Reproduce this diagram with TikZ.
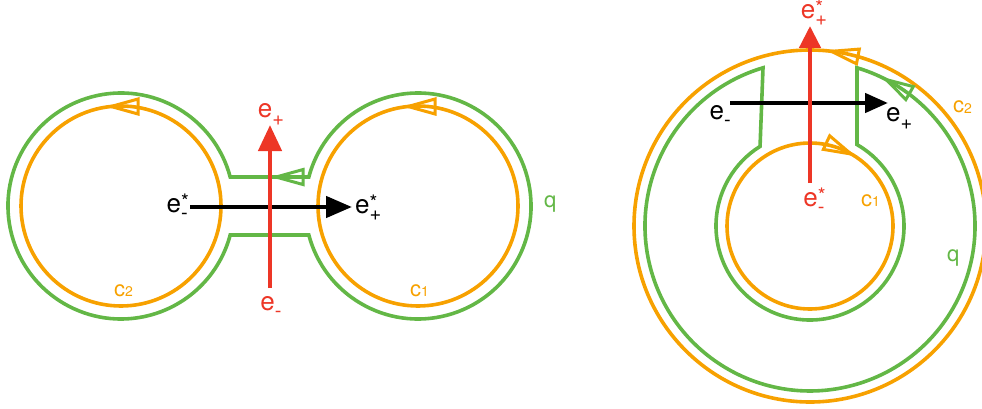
\documentclass[tikz,border=0pt]{standalone}
\usepackage{fontspec}
\setmainfont{TeX Gyre Heros}
\usetikzlibrary{arrows.meta}
\definecolor{cor}{RGB}{247,161,0}
\definecolor{cgr}{RGB}{99,183,70}
\definecolor{cre}{RGB}{237,54,38}
\newcommand{\esub}[2]{e\makebox[0pt][l]{\raisebox{4pt}{\fontsize{20}{20}\selectfont #1}}\raisebox{-7pt}{\fontsize{20}{20}\selectfont #2}}
\newcommand{\cidx}[1]{c\raisebox{-0.5pt}{\fontsize{14}{14}\selectfont #1}}
\newcommand{\otri}[3]{\draw[#3,line width=3pt,line join=miter,shift={#1},rotate=#2] (0,0) -- (27,7.5) -- (27,-7.5) -- cycle;}
\begin{document}
\begin{tikzpicture}[x=1pt,y=-1pt,
  ocirc/.style={cor,line width=3.6pt},
  gpath/.style={cgr,line width=3.6pt,line join=miter},
  vec/.style={line width=4.5pt},
  lbl/.style={font=\fontsize{26}{28}\selectfont, inner sep=0pt},
  clbl/.style={font=\fontsize{22}{24}\selectfont, inner sep=0pt, text=cor},
  qlbl/.style={font=\fontsize{22}{24}\selectfont, inner sep=0pt, text=cgr}]
\useasboundingbox (0,0) rectangle (982,409);

% ================= left figure =================
\draw[ocirc] (121,206) circle[radius=100];
\draw[ocirc] (418,206) circle[radius=100];
\otri{(111,106.5)}{0}{cor}
\otri{(408,106.5)}{0}{cor}

\draw[gpath] (230.2,177.04) arc[start angle=-14.85,end angle=-345.15,radius=113]
  -- (308.8,234.96) arc[start angle=-194.85,end angle=-525.15,radius=113] -- cycle;
\otri{(276,177.04)}{0}{cgr}

% labels left
\node[lbl,anchor=base east] (Lem) at (188,212) {\esub{*}{-}};
\node[lbl,anchor=base west] (Lep) at (355,213) {\esub{*}{+}};
\coordinate (Ltip) at (352,207);
\draw[vec,-{Triangle[length=26pt,width=21pt]}] (Lem.east |- Ltip) ++(2,0) -- (Ltip);

\node[lbl,anchor=base,text=cre] (Lrp) at (271,118) {\esub{}{+}};
\node[lbl,anchor=base,text=cre] (Lrm) at (271,310) {\esub{}{-}};
\coordinate (Lrb) at (270,288);
\coordinate (Lrt) at (270,125);
\draw[vec,cre,-{Triangle[length=26pt,width=23pt]}] (Lrb) -- (Lrt);

\node[clbl,anchor=base west] (Lc2) at (114,296) {\cidx{2}};
\node[clbl,anchor=base west] (Lc1) at (410,296) {\cidx{1}};
\node[qlbl,anchor=base west] (Lq) at (544,207) {q};

% ================= right figure =================
\draw[ocirc] (810,226) circle[radius=176];
\draw[ocirc] (810,226) circle[radius=83];
\otri{(831.4,51.3)}{-11}{cor}
\otri{(851,154)}{155}{cor}

\draw[gpath] (763,67.8) arc[start angle=-106.55,end angle=-433.45,radius=165]
  -- (857,144.6) arc[start angle=-60,end angle=237.9,radius=94] -- cycle;
\otri{(886.2,79.6)}{-30}{cgr}

\node[lbl,anchor=base east] (Rem) at (731,120) {\esub{}{-}};
\node[lbl,anchor=base west] (Rep) at (886,122) {\esub{}{+}};
\coordinate (Rbs) at (730,103);
\coordinate (Rbt) at (888,103);
\draw[vec,-{Triangle[length=23pt,width=19pt]}] (Rbs) -- (Rbt);

\node[lbl,anchor=base,text=cre] (Rtp) at (814,19) {\esub{*}{+}};
\node[lbl,anchor=base,text=cre] (Rtm) at (814,206) {\esub{*}{-}};
\coordinate (Rrb) at (810,183);
\coordinate (Rrt) at (810,26);
\draw[vec,cre,-{Triangle[length=22pt,width=21pt]}] (Rrb) -- (Rrt);

\node[clbl,anchor=base west] (Rc2) at (953,113) {\cidx{2}};
\node[clbl,anchor=base west] (Rc1) at (861,206) {\cidx{1}};
\node[qlbl,anchor=base west] (Rq) at (947,261) {q};
\end{tikzpicture}
\end{document}
